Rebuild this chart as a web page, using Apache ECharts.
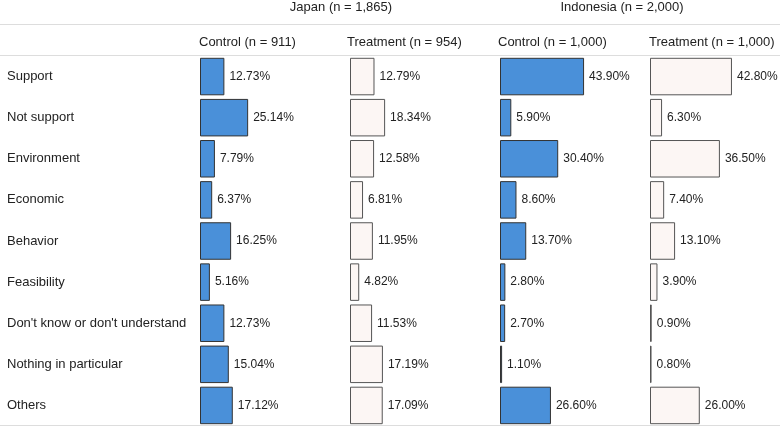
<!DOCTYPE html>
<html><head><meta charset="utf-8">
<script src="https://cdn.jsdelivr.net/npm/echarts@6/dist/echarts.min.js"></script>
<style>html,body{margin:0;padding:0;background:#fff}#c{width:780px;height:427px}</style>
</head><body><div id="c"></div>
<script>
const categories = ["Support","Not support","Environment","Economic","Behavior","Feasibility","Don't know or don't understand","Nothing in particular","Others"];
const japanControl   = [12.73,25.14,7.79,6.37,16.25,5.16,12.73,15.04,17.12];
const japanTreatment = [12.79,18.34,12.58,6.81,11.95,4.82,11.53,17.19,17.09];
const indoControl    = [43.90,5.90,30.40,8.60,13.70,2.80,2.70,1.10,26.60];
const indoTreatment  = [42.80,6.30,36.50,7.40,13.10,3.90,0.90,0.80,26.00];
const groupLabels = ["Japan (n = 1,865)","Indonesia (n = 2,000)"];
const columnLabels = ["Control (n = 911)","Treatment (n = 954)","Control (n = 1,000)","Treatment (n = 1,000)"];

const FONT = 'Arial, "Liberation Sans", sans-serif';
const TXT = '#222';
const cols = [
  {data: japanControl, left: 200, fill: '#4a90d9', border: '#333'},
  {data: japanTreatment, left: 350, fill: '#fcf6f4', border: '#555'},
  {data: indoControl, left: 500, fill: '#4a90d9', border: '#333'},
  {data: indoTreatment, left: 650, fill: '#fcf6f4', border: '#555'}
];
const PX_PER = 1.915, GW = 100;
const grid = [], xAxis = [], yAxis = [], series = [];
cols.forEach((c, i) => {
  grid.push({left: c.left, top: 56, width: GW, height: 370});
  xAxis.push({type: 'value', gridIndex: i, min: 0, max: GW / PX_PER, show: false});
  yAxis.push({type: 'category', gridIndex: i, data: categories, inverse: true,
    axisLine: {show: false}, axisTick: {show: false}, splitLine: {show: false},
    axisLabel: i === 0 ? {show: true, align: 'left', margin: 193, fontSize: 13, color: TXT, fontFamily: FONT} : {show: false}});
  series.push({type: 'bar', xAxisIndex: i, yAxisIndex: i, data: c.data, barWidth: 37.5,
    itemStyle: {color: c.fill, borderColor: c.border, borderWidth: 1},
    label: {show: true, position: 'right', distance: 5, fontSize: 12, color: TXT, fontFamily: FONT,
      formatter: p => p.value.toFixed(2) + '%'},
    silent: true, animation: false});
});
const graphic = [
  {type: 'line', shape: {x1: 0, y1: 24.5, x2: 780, y2: 24.5}, style: {stroke: '#ddd', lineWidth: 1}},
  {type: 'line', shape: {x1: 0, y1: 55.5, x2: 780, y2: 55.5}, style: {stroke: '#ddd', lineWidth: 1}},
  {type: 'line', shape: {x1: 0, y1: 425.5, x2: 780, y2: 425.5}, style: {stroke: '#ddd', lineWidth: 1}},
  {type: 'text', x: 341, y: 7, style: {text: groupLabels[0], font: '13px ' + FONT, fill: TXT, textAlign: 'center', textVerticalAlign: 'middle'}},
  {type: 'text', x: 622, y: 7, style: {text: groupLabels[1], font: '13px ' + FONT, fill: TXT, textAlign: 'center', textVerticalAlign: 'middle'}}
];
[199, 347, 498, 649].forEach((x, i) => {
  graphic.push({type: 'text', x: x, y: 42, style: {text: columnLabels[i], font: '13px ' + FONT, fill: TXT, textAlign: 'left', textVerticalAlign: 'middle'}});
});
const chart = echarts.init(document.getElementById('c'), null, {renderer: 'canvas'});
chart.setOption({animation: false, grid, xAxis, yAxis, series, graphic});
</script></body></html>
